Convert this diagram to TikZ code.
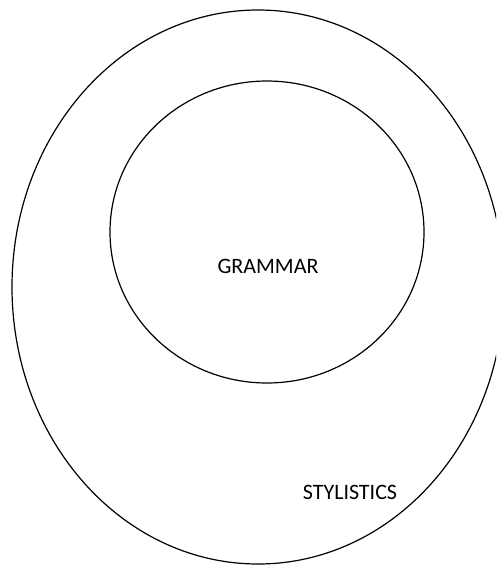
\documentclass[tikz,border=0pt]{standalone}
\usepackage{fontspec}
\setmainfont{Carlito}
\begin{document}
\begin{tikzpicture}[x=1pt,y=-1pt,
  ring/.style={draw=black,line width=1.2pt},
  lbl/.style={font=\fontsize{22}{26}\selectfont,inner sep=0pt}]
\useasboundingbox (0,0) rectangle (496,565);
\clip (0,0) rectangle (496,565);
\draw[ring] (258,287) ellipse [x radius=246, y radius=277];
\draw[ring] (267,232) ellipse [x radius=157, y radius=151];
\node[lbl] (grammar) at (268,266) {GRAMMAR};
\node[lbl] (stylistics) at (350,492) {STYLISTICS};
\end{tikzpicture}
\end{document}
